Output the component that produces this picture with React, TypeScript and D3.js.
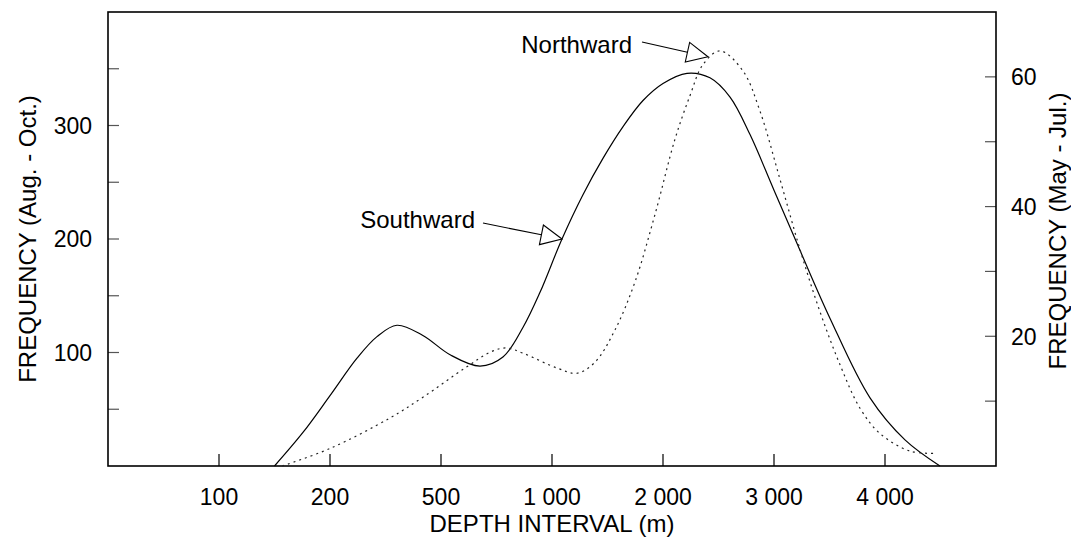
import React from "react";
import * as d3 from "d3";

// Depth categories shown on the horizontal axis (equally spaced)
const depthTicks = [100, 200, 500, 1000, 2000, 3000, 4000];

// Southward migration, Aug. - Oct. (left axis)
const southDepth = [150, 176, 200, 273, 327, 381, 451, 541, 676, 779, 869, 946, 1090, 1279, 1459, 1640, 1820, 2000, 2216, 2423, 2604, 2784, 3000, 3234, 3505, 3865, 4180, 4495];
const southFreq = [0, 30, 62, 95, 114, 124, 115, 98, 88, 96, 122, 153, 200, 239, 271, 299, 322, 337, 346, 342, 325, 292, 243, 190, 130, 60, 23, 0];

// Northward migration, May - Jul. (right axis)
const northDepth = [157, 200, 362, 451, 608, 725, 793, 869, 1045, 1225, 1387, 1568, 1748, 1928, 2108, 2243, 2360, 2514, 2721, 2874, 3054, 3234, 3414, 3595, 3775, 3955, 4225, 4468];
const northFreq = [0, 2.7, 7.4, 10.6, 15.1, 17.6, 18.2, 17.4, 15.1, 14.3, 16.0, 21.0, 28.4, 38.8, 50.4, 57.1, 61.9, 64.0, 60.9, 54.7, 44.2, 33.4, 23.8, 15.6, 8.9, 5.0, 2.3, 1.95];

// Axis ticks
const leftTicks = [50, 100, 150, 200, 250, 300, 350];
const leftLabels = [100, 200, 300];
const rightTicks = [10, 20, 30, 40, 50, 60];
const rightLabels = [20, 40, 60];

const W = 1071;
const H = 543;
const M = { left: 108, right: 996, top: 12, bottom: 466 };
const FONT = "'Liberation Sans', Arial, Helvetica, sans-serif";

const fmt = d3.formatLocale({ decimal: ".", thousands: " ", grouping: [3], currency: ["", ""] }).format(",");

export default function App() {
  const step = (M.right - M.left) / (depthTicks.length + 1);
  const x = d3
    .scaleLinear()
    .domain(depthTicks)
    .range(depthTicks.map((_, i) => M.left + (i + 1) * step));
  const yL = d3.scaleLinear().domain([0, 400]).range([M.bottom, M.top]);
  const yR = d3.scaleLinear().domain([0, 70]).range([M.bottom, M.top]);

  const curve = d3.curveCatmullRom.alpha(0.5);
  const southLine = d3
    .line<number>()
    .x((_, i) => x(southDepth[i]))
    .y((d) => yL(d))
    .curve(curve)(southFreq) as string;
  const northLine = d3
    .line<number>()
    .x((_, i) => x(northDepth[i]))
    .y((d) => yR(d))
    .curve(curve)(northFreq) as string;

  // Labelled arrows pointing at each curve
  const notes = [
    { text: "Southward", tip: [x(1090), yL(200)], from: [483, 223], tx: 475, ty: 228 },
    { text: "Northward", tip: [x(2405), yR(63.1)], from: [642, 42], tx: 632, ty: 53 },
  ];

  const arrow = (tip: number[], from: number[]) => {
    const dx = from[0] - tip[0];
    const dy = from[1] - tip[1];
    const len = Math.hypot(dx, dy);
    const ux = dx / len;
    const uy = dy / len;
    const hl = 21;
    const hw = 10;
    const bx = tip[0] + ux * hl;
    const by = tip[1] + uy * hl;
    const p1 = [bx - uy * hw, by + ux * hw];
    const p2 = [bx + uy * hw, by - ux * hw];
    return { base: [bx, by], head: `M${tip[0]},${tip[1]}L${p1[0]},${p1[1]}L${p2[0]},${p2[1]}Z` };
  };

  return (
    <svg
      width={W}
      height={H}
      style={{ position: "absolute", left: 0, top: 0, background: "#fff" }}
      fontFamily={FONT}
    >
      <rect x={0} y={0} width={W} height={H} fill="#fff" />

      {/* ticks */}
      {leftTicks.map((t) => (
        <line key={"l" + t} x1={M.left} x2={M.left + 11} y1={yL(t)} y2={yL(t)} stroke="#555" strokeWidth={1.2} />
      ))}
      {rightTicks.map((t) => (
        <line key={"r" + t} x1={M.right - 11} x2={M.right} y1={yR(t)} y2={yR(t)} stroke="#555" strokeWidth={1.2} />
      ))}
      {depthTicks.map((t) => (
        <line key={"b" + t} x1={x(t)} x2={x(t)} y1={M.bottom} y2={M.bottom - 12} stroke="#000" strokeWidth={1.2} />
      ))}

      {/* frame */}
      <rect
        x={M.left}
        y={M.top}
        width={M.right - M.left}
        height={M.bottom - M.top}
        fill="none"
        stroke="#000"
        strokeWidth={1.6}
      />

      {/* tick labels */}
      {leftLabels.map((t) => (
        <text key={"ll" + t} x={92} y={yL(t)} dy="0.36em" textAnchor="end" fontSize={23}>
          {t}
        </text>
      ))}
      {rightLabels.map((t) => (
        <text key={"rl" + t} x={1011} y={yR(t)} dy="0.36em" textAnchor="start" fontSize={23}>
          {t}
        </text>
      ))}
      {depthTicks.map((t) => (
        <text key={"bl" + t} x={x(t)} y={505} textAnchor="middle" fontSize={23}>
          {fmt(t)}
        </text>
      ))}

      {/* axis titles */}
      <text x={(M.left + M.right) / 2} y={532} textAnchor="middle" fontSize={24}>
        DEPTH INTERVAL (m)
      </text>
      <text
        transform={`translate(36,${(M.top + M.bottom) / 2}) rotate(-90)`}
        textAnchor="middle"
        fontSize={24}
      >
        FREQUENCY (Aug. - Oct.)
      </text>
      <text
        transform={`translate(1066,${(M.top + M.bottom) / 2 - 8}) rotate(-90)`}
        textAnchor="middle"
        fontSize={24}
      >
        FREQUENCY (May - Jul.)
      </text>

      {/* curves */}
      <path d={southLine} fill="none" stroke="#000" strokeWidth={1.2} />
      <path d={northLine} fill="none" stroke="#222" strokeWidth={1.2} strokeDasharray="2,4" />

      {/* annotations */}
      {notes.map((n) => {
        const a = arrow(n.tip, n.from);
        return (
          <g key={n.text}>
            <line x1={n.from[0]} y1={n.from[1]} x2={a.base[0]} y2={a.base[1]} stroke="#000" strokeWidth={1.1} />
            <path d={a.head} fill="#fff" stroke="#000" strokeWidth={1.1} />
            <text x={n.tx} y={n.ty} textAnchor="end" fontSize={24}>
              {n.text}
            </text>
          </g>
        );
      })}
    </svg>
  );
}
